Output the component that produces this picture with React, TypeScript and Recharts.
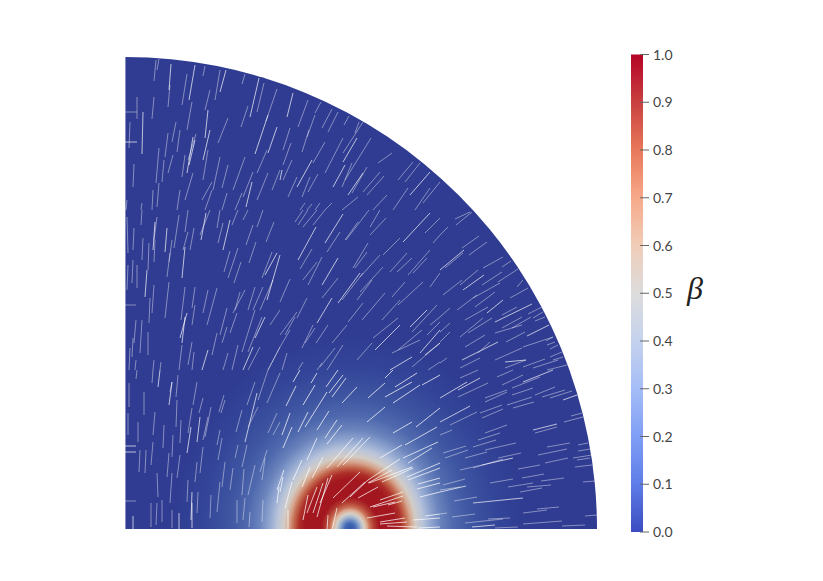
import React from "react";
import { ComposedChart, Scatter, Line, Bar, XAxis, YAxis } from "recharts";

// Field shapes, in picture units: the disc centre and radius, the peak centre.
const discPoints = [{ x: 125, y: 529, r: 472 }];
const blobPoints = [{ x: 350, y: 529, r: 200 }];
const blobRadii = [0, 5, 8, 11, 14, 17, 20, 24, 29, 45, 51, 56, 61, 66, 73, 81, 90, 103, 120, 145, 175];
const blobColors = ["#3154a8", "#4268b4", "#6f8fc4", "#a8b8cf", "#d6d0c6", "#dcae94", "#c96f55", "#b23e33", "#a3161f", "#a3171f", "#ad2e28", "#c2664c", "#d6a78f", "#d2ccc6", "#b9c4da", "#90a6d0", "#6c85bd", "#4f69ae", "#3f56a2", "#344699", "#2f3c91"];

// Colour bar
const betaTicks = [0, 0.1, 0.2, 0.3, 0.4, 0.5, 0.6, 0.7, 0.8, 0.9, 1];
const betaColors = ["#3b4cc0", "#5e7de8", "#7f9ef5", "#a5bdf7", "#c5d2ee", "#dcdcdc", "#f0cdb8", "#f7a98a", "#e8785a", "#c94040", "#b40426"];
const barData = [{ name: "beta", top: 1 }];

// Streak end points x1,y1,x2,y2.
const streaksFaint: number[][] = [
[156,60,154,81],[159,59,157,70],[170,85,168,107],[187,74,182,105],[205,66,203,76],[137,97,137,119],[154,97,152,119],[210,90,205,110],[220,70,215,100],[245,74,242,84],[264,83,257,112],[277,89,266,121],[248,106,241,127],[130,122,129,148],[192,102,187,130],[228,118,218,143],[176,122,172,142],[180,130,177,152],[196,134,188,160],[168,133,165,157],[159,148,156,183],[164,160,162,182],[173,155,168,173],[185,155,182,177],[208,150,203,180],[134,164,133,187],[245,157,233,190],[228,165,222,188],[220,157,213,190],[193,173,185,200],[212,182,202,200],[253,172,243,197],[267,150,257,173],[280,170,272,190],[268,173,257,200],[242,193,235,210],[153,190,152,210],[159,183,157,207],[180,190,177,210],[212,190,205,210],[227,193,222,210],[127,200,126,210],[142,203,141,210],
[308,100,298,127],[321,102,315,113],[315,115,307,137],[332,109,322,128],[338,112,328,132],[349,116,344,125],[363,122,343,153],[359,122,355,133],[290,128,283,150],[291,143,283,165],[325,142,313,163],[309,130,302,152],[343,138,325,173],[371,138,345,180],[392,153,378,163],[413,162,398,180],[420,163,405,182],[440,182,423,203],[292,160,283,180],[318,174,308,192],[297,177,288,197],[310,177,302,197],[352,163,342,187],[367,167,352,193],[380,172,363,192],[384,176,367,195],[387,195,373,210],[408,188,393,210],[430,188,415,210],[320,203,315,210],[332,203,325,210],[305,203,300,210],[312,204,307,210],[358,197,342,210],
[142,210,141,225],[157,217,154,240],[134,228,133,250],[127,217,128,253],[143,238,142,260],[172,240,169,262],[179,215,174,248],[188,210,185,232],[188,232,183,250],[194,228,190,250],[170,253,167,277],[149,243,148,270],[155,240,154,262],[128,265,127,290],[133,260,132,283],[137,265,137,288],[210,210,200,235],[220,210,217,228],[223,223,218,243],[238,210,232,225],[248,210,243,220],[263,210,257,227],[253,225,246,245],[274,222,266,242],[256,242,249,263],[230,251,224,272],[238,248,228,278],[241,262,234,283],[272,252,262,278],[169,282,165,318],[154,285,152,313],[150,298,149,323],[185,287,181,320],[195,287,192,308],[208,290,203,313],[217,288,207,325],[195,305,192,325],[245,290,233,313],[240,292,235,310],[255,287,248,310],[263,287,253,310],[273,280,260,310],[136,320,134,343],[142,320,140,353],[148,332,148,355],[227,308,220,335],[237,313,230,333],[255,310,242,352],[262,317,248,352],[280,310,270,325],[227,327,222,343],[217,333,212,355],[182,345,179,370],[192,342,188,365],[194,352,192,370],[228,353,223,370],[238,345,232,370],[260,347,248,370],[130,348,129,370],[133,338,132,357],[136,360,135,370],[154,360,153,370],[161,362,160,370],
[303,210,295,222],[308,210,298,225],[317,210,303,227],[325,210,313,225],[340,232,327,252],[369,210,346,240],[358,222,345,240],[386,218,370,235],[380,210,370,227],[440,218,425,233],[440,235,433,243],[400,238,383,255],[368,243,353,268],[367,252,355,268],[312,249,300,269],[322,257,308,285],[317,262,303,280],[380,255,360,277],[383,267,360,292],[407,253,390,272],[412,258,397,272],[430,250,408,275],[427,258,413,273],[440,273,430,287],[290,279,280,302],[363,273,342,300],[372,280,357,300],[338,278,322,298],[423,282,398,305],[405,282,392,297],[385,293,362,320],[307,298,297,318],[363,303,348,322],[347,325,332,343],[400,300,382,320],[437,305,412,332],[440,317,430,325],[440,322,427,335],[297,312,280,335],[295,317,285,335],[313,325,302,348],[315,328,305,343],[328,325,316,343],[398,318,373,338],[422,330,398,350],[372,343,357,360],[343,345,327,370],[335,348,320,367],[290,330,280,347],[287,353,282,370],[303,362,298,370],[322,363,317,370],[420,340,392,353],[440,343,412,367],[440,362,428,370],
[472,212,456,225],[470,212,455,219],[448,227,440,235],[479,236,462,248],[487,242,469,255],[463,253,445,268],[503,257,483,268],[478,270,460,285],[511,261,502,267],[518,269,498,282],[502,272,482,285],[462,280,443,295],[528,288,510,298],[523,280,517,287],[500,283,473,298],[477,295,457,310],[495,292,475,307],[517,307,502,315],[488,307,465,320],[450,308,440,317],[542,307,528,314],[543,312,533,318],[545,317,535,321],[522,317,502,328],[531,317,512,328],[483,318,460,337],[492,318,468,333],[522,325,495,333],[450,323,440,332],[450,332,440,342],[553,337,546,341],[555,342,547,345],[525,332,506,342],[485,335,465,347],[553,337,523,347],[490,342,478,353],[558,345,550,349],[562,352,550,357],[563,357,553,360],[522,348,495,360],[558,360,533,368],[526,360,505,368],[545,359,523,367],[480,358,460,368],[567,365,547,370],[447,358,440,363],
[478,370,460,378],[513,370,497,377],[523,375,502,385],[540,377,512,388],[488,383,458,397],[507,390,485,398],[507,392,485,402],[555,387,535,395],[533,388,512,395],[565,390,542,397],[532,397,507,405],[534,402,513,408],[572,391,550,398],[502,405,480,413],[503,409,482,418],[477,412,450,425],[582,413,571,416],[583,417,564,422],[557,427,535,433],[507,425,485,433],[500,433,478,440],[496,440,473,447],[516,443,485,450],[452,430,440,435],[588,443,578,445],[570,443,547,447],[567,449,538,455],[590,449,578,451],[592,455,573,458],[590,458,577,460],[568,458,545,463],[592,465,575,467],[521,453,498,458],[487,452,465,458],[466,446,443,453],[468,450,445,458],[503,459,473,468],[482,465,460,470],[540,465,518,469],[544,474,522,478],[564,478,541,481],[595,481,583,482],[513,479,490,483],[551,485,527,487],[533,483,508,487],[542,488,520,492],[465,479,443,485],[460,487,440,490],[477,497,454,501],[559,507,537,509],[547,510,523,513],[597,515,585,516],[475,514,452,517],[510,518,488,519],[503,519,465,523],[562,521,523,524],[585,525,562,526],[518,527,495,528],[447,513,440,514],
[172,382,170,392],[178,375,176,397],[153,370,152,383],[137,370,136,379],[129,383,129,407],[144,392,144,415],[197,382,193,405],[203,398,199,413],[224,395,219,412],[225,400,221,413],[255,382,247,405],[268,370,258,400],[280,373,267,403],[242,410,236,432],[258,407,248,427],[177,400,176,427],[155,412,153,435],[192,408,188,433],[211,407,205,437],[208,417,203,440],[138,422,138,442],[128,413,128,435],[164,425,163,448],[181,420,180,443],[173,435,172,457],[222,438,218,460],[220,430,217,445],[153,442,151,465],[146,450,145,473],[140,450,139,472],[247,445,242,467],[238,445,235,458],[277,413,268,433],[280,422,273,435],[267,450,260,472],[265,458,262,480],[203,447,200,473],[197,462,195,482],[180,455,177,478],[169,453,167,477],[157,473,158,497],[172,473,170,503],[225,462,222,487],[233,468,230,490],[244,469,242,495],[255,465,248,495],[188,480,187,502],[198,492,197,513],[211,495,210,518],[220,482,217,512],[237,500,237,523],[245,498,243,520],[263,500,262,522],[250,512,249,527],[162,500,162,522],[157,503,156,525],[151,503,151,527],[172,510,172,528],
[125.5,57,125.5,529],[125,112,137,112],[125,305,136,305],[125,501,136,501],
];

const streaksBright: number[][] = [
[171,64,169,90],[195,65,189,100],[226,70,220,92],[259,78,250,117],[268,115,255,154],[143,112,142,154],[208,110,205,138],[210,130,203,160],[193,137,187,173],[195,140,189,165],[277,127,268,153],[252,182,246,207],[125,142,137,142],
[293,93,287,117],[357,138,343,162],[430,172,410,195],[312,160,297,187],[345,165,333,187],[363,173,348,195],[282,170,280,180],
[155,222,153,250],[167,228,165,252],[185,247,182,278],[147,270,145,297],[206,213,201,240],[230,220,223,250],[277,253,265,275],[280,255,267,300],[187,313,180,338],[185,317,182,343],[265,317,255,338],[208,350,202,370],[253,347,243,370],[280,347,268,370],
[343,214,325,243],[316,227,298,260],[430,213,403,242],[338,258,322,285],[360,273,338,303],[332,298,317,323],[427,310,410,327],[400,325,375,350],[440,330,420,353],[412,357,390,370],[440,343,425,355],
[464,250,440,270],[484,275,463,290],[503,300,487,313],[532,304,495,322],[549,325,527,336],[498,342,462,360],[526,360,505,362],
[553,370,523,382],[467,382,440,398],[480,378,458,390],[577,395,563,400],[470,406,440,422],[557,424,533,430],[513,458,482,465],[466,486,440,492],[523,498,473,503],[495,525,472,527],
[160,370,158,387],[172,382,169,405],[257,393,245,442],[200,417,197,442],[191,427,187,453],[192,492,191,520],[192,503,192,528],[179,513,179,530],[133,516,133,530],[125,446,136,446],[125,452,136,452],
];

const streaksBlob: number[][] = [
[300,370,293,382],[317,373,311,383],[338,370,326,387],[343,375,329,393],[346,378,332,397],[357,387,342,403],[296,386,286,406],[315,385,303,405],[327,392,305,427],[385,383,368,398],[417,373,395,387],[412,382,385,397],[420,385,393,403],[393,370,385,378],[440,375,422,385],[440,408,416,427],[385,407,367,422],[412,422,393,433],[437,427,405,445],[308,412,298,432],[329,411,317,430],[337,420,325,438],[342,425,327,444],[290,413,282,435],[292,427,283,448],[317,438,307,460],[353,438,327,468],[370,437,343,465],[363,438,337,467],[402,445,380,458],[438,442,403,458],[432,448,408,463],[323,457,312,478],[302,460,293,480],[310,467,302,487],[412,467,369,483],[400,459,368,480],[392,470,368,483],[413,468,382,482],[440,463,407,477],[440,468,408,480],[332,475,320,503],[328,478,317,517],[323,483,313,513],[317,487,307,513],[308,495,303,520],[292,482,285,508],[283,477,280,492],[360,472,333,498],[365,482,342,503],[378,487,358,498],[368,480,350,497],[440,478,418,484],[440,483,417,489],[440,492,420,497],[403,492,380,500],[403,496,370,507],[395,502,373,507],[395,513,367,518],[402,501,388,505],[407,522,380,524],[405,518,380,522],[417,527,387,526],[440,514,425,516],[440,518,413,520],[440,527,418,528],[288,510,288,530],[337,508,332,530],[328,515,327,530],[279,487,277,503],[284,470,277,490],
];

const toRows = (segments: number[][]) =>
  segments.flatMap(([x1, y1, x2, y2]) => [
    { x: x1, y: y1 },
    { x: x2, y: y2 },
    { x: x2, y: null },
  ]);

const DiscShape = (props: any) => {
  const { cx, cy, payload } = props;
  const r = payload.r;
  return <path d={`M${cx},${cy} L${cx},${cy - r} A${r},${r} 0 0 1 ${cx + r},${cy} Z`} fill="#2f3c91" />;
};

const BlobShape = (props: any) => {
  const { cx, cy, payload } = props;
  const r = payload.r;
  const stretch = 1.1;
  return (
    <g>
      <defs>
        <radialGradient
          id="blobGrad"
          gradientUnits="userSpaceOnUse"
          cx={0}
          cy={0}
          r={r}
          gradientTransform={`translate(${cx} ${cy}) scale(1 ${stretch})`}
        >
          {blobRadii.map((v, i) => (
            <stop key={i} offset={v / r} stopColor={blobColors[i]} />
          ))}
        </radialGradient>
      </defs>
      <path
        d={`M${cx - r},${cy} A${r},${r * stretch} 0 0 1 ${cx + r},${cy} Z`}
        fill="url(#blobGrad)"
      />
    </g>
  );
};

const BetaTick = (props: any) => {
  const { x, y, payload } = props;
  return (
    <g>
      <line x1={x - 11} x2={x - 2} y1={y} y2={y} stroke="#666666" strokeWidth={1} />
      <text x={x + 2} y={y + 5} fontFamily="Lato" fontSize={14} fill="#444444">
        {payload.value.toFixed(1)}
      </text>
    </g>
  );
};

export default function App() {
  return (
    <div style={{ position: "absolute", left: 0, top: 0, width: 823, height: 581 }}>
      <div style={{ position: "absolute", left: 0, top: 0 }}>
        <ComposedChart width={823} height={581} margin={{ left: 125, top: 57, right: 226, bottom: 52 }}>
          <XAxis type="number" dataKey="x" domain={[125, 597]} hide allowDataOverflow />
          <YAxis type="number" dataKey="y" domain={[57, 529]} reversed hide allowDataOverflow />
          <Scatter data={discPoints} dataKey="y" shape={DiscShape} isAnimationActive={false} zIndex={1} />
          <Scatter data={blobPoints} dataKey="y" shape={BlobShape} isAnimationActive={false} zIndex={2} />
          <Line data={toRows(streaksFaint)} dataKey="y" stroke="#ffffff" strokeOpacity={0.42} strokeWidth={1} dot={false} isAnimationActive={false} zIndex={3} />
          <Line data={toRows(streaksBright)} dataKey="y" stroke="#ffffff" strokeOpacity={0.68} strokeWidth={1} dot={false} isAnimationActive={false} zIndex={4} />
          <Line data={toRows(streaksBlob)} dataKey="y" stroke="#ffffff" strokeOpacity={0.72} strokeWidth={1} dot={false} isAnimationActive={false} zIndex={5} />
        </ComposedChart>
      </div>
      <div style={{ position: "absolute", left: 0, top: 0 }}>
        <ComposedChart
          width={823}
          height={581}
          data={barData}
          barCategoryGap={0}
          margin={{ left: 631, top: 54.5, right: 120, bottom: 49 }}
        >
          <defs>
            <linearGradient id="betaGrad" x1="0" y1="1" x2="0" y2="0">
              {betaTicks.map((t, i) => (
                <stop key={t} offset={t} stopColor={betaColors[i]} />
              ))}
            </linearGradient>
          </defs>
          <XAxis dataKey="name" hide />
          <YAxis
            orientation="right"
            type="number"
            domain={[0, 1]}
            ticks={betaTicks}
            width={60}
            axisLine={false}
            tickLine={false}
            interval={0}
            tick={BetaTick}
            label={{ value: "β", position: "insideRight", dx: 5, dy: -6, fontFamily: "Liberation Serif", fontStyle: "italic", fontSize: 32, fill: "#222222" }}
          />
          <Bar dataKey="top" fill="url(#betaGrad)" isAnimationActive={false} />
        </ComposedChart>
      </div>
    </div>
  );
}
